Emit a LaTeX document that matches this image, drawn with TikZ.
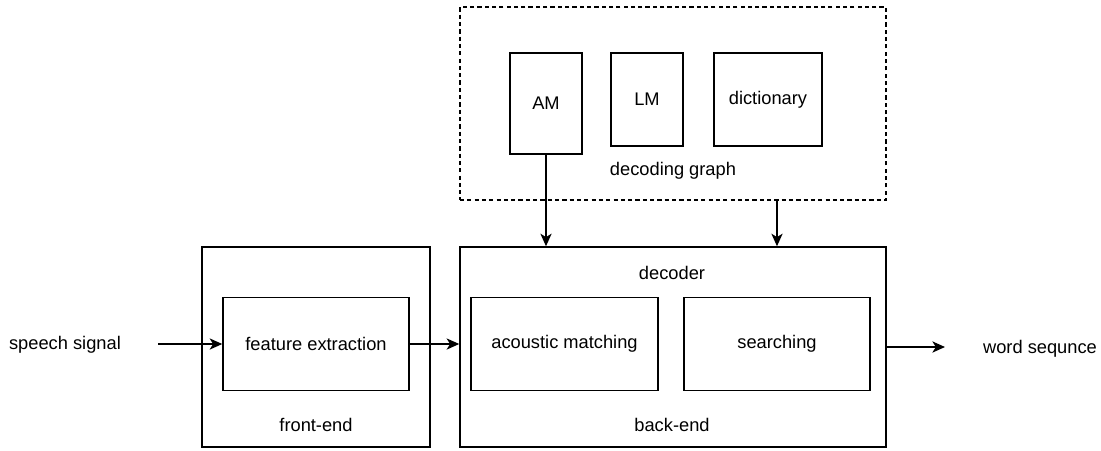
\documentclass[tikz,border=0pt]{standalone}
\usepackage{fontspec}
\setmainfont{Liberation Sans}
\usetikzlibrary{arrows.meta,positioning}

\tikzset{
  blk/.style={draw, line width=1pt, inner sep=0pt},
  arr/.style={-{Stealth[length=9pt, width=8pt, inset=2.5pt]}, line width=1pt}
}

\begin{document}
\begin{tikzpicture}[x=0.025cm, y=-0.025cm, font=\fontsize{13}{15}\selectfont]
	\useasboundingbox (0,0) rectangle (1101,450);

	% decoding graph (dashed) with its three models
	\node[blk, dashed, dash pattern=on 3pt off 2.2pt, minimum width=10.65cm, minimum height=4.825cm] (graph) at (673,103.5) {};
	\node[blk, minimum width=1.8cm, minimum height=2.525cm] (am) at (546,103.5) {AM};
	\node[blk, minimum width=1.8cm, minimum height=2.325cm] (lm) at (647,99.5) {LM};
	\node[blk, minimum width=2.7cm, minimum height=2.325cm] (dict) at (768,99.5) {dictionary};
	\node (graphlbl) at (673,171) {decoding graph};

	% front-end
	\node[blk, minimum width=5.7cm, minimum height=5cm] (front) at (316,347) {};
	\node[blk, minimum width=4.65cm, minimum height=2.325cm] (feat) at (316,344) {feature extraction};
	\node (frontlbl) at (316,425) {front-end};

	% back-end
	\node[blk, minimum width=10.65cm, minimum height=5cm] (back) at (673,347) {};
	\node[blk, minimum width=4.675cm, minimum height=2.325cm] (match) at (564.5,344) {acoustic matching};
	\node[blk, minimum width=4.65cm, minimum height=2.325cm] (srch) at (777,344) {searching};
	\node (declbl) at (672,273) {decoder};
	\node (backlbl) at (672,425) {back-end};

	% input and output
	\node (speech) at (65,345) {speech signal};
	\coordinate (in) at (158,344);
	\coordinate (out) at (945,347);
	\node (words) at (1040,349) {word sequnce};

	\draw[arr] (in) -- (feat.west);
	\draw[arr] (feat.east) -- (feat.east -| back.west);
	\draw[arr] (back.east) -- (out);
	\draw[arr] (am.south) -- (am.south |- back.north);
	\draw[arr] (graph.south -| srch) -- (srch |- back.north);
\end{tikzpicture}
\end{document}
